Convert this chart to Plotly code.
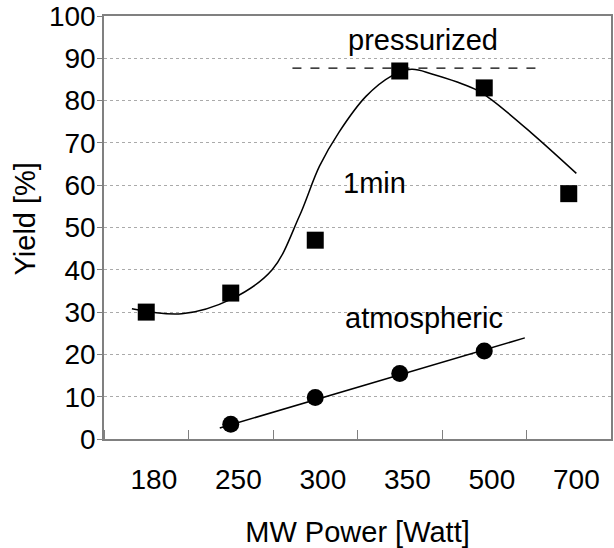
import plotly.graph_objects as go

categories = ["180", "250", "300", "350", "500", "700"]
cat_pos = [0, 1, 2, 3, 4, 5]
label_pos = [0.09, 1.09, 2.09, 3.09, 4.09, 5.09]

# pressurized 1 min (squares)
press_x = [0, 1, 2, 3, 4, 5]
press_y = [30, 34.5, 47, 87, 83, 58]

# atmospheric (circles)
atm_x = [1, 2, 3, 4]
atm_y = [3.5, 9.8, 15.5, 20.8]

# hand-drawn smooth trend curve for pressurized
fit_x = [-0.17, 0.42, 1.0, 1.49, 1.81, 2.05, 2.28, 2.6, 2.9, 3.14, 3.38, 3.89, 4.08, 4.55, 5.09]
fit_y = [30.8, 29.6, 33, 40, 52.6, 64.5, 72.5, 81, 85.8, 87.4, 86.3, 82.7, 80.3, 72.5, 62.8]

# linear trend for atmospheric
atm_fit_x = [0.87, 4.48]
atm_fit_y = [2.6, 23.9]

# dashed max level
max_x = [1.73, 4.61]
max_y = [87.7, 87.7]

FONT = "Liberation Sans, Arial, sans-serif"
TXT = 29

fig = go.Figure()
fig.add_trace(go.Scatter(x=fit_x, y=fit_y, mode="lines", line=dict(color="black", width=1.5, shape="spline", smoothing=1.0), hoverinfo="skip"))
fig.add_trace(go.Scatter(x=max_x, y=max_y, mode="lines", line=dict(color="black", width=1.2, dash="dash"), hoverinfo="skip"))
fig.add_trace(go.Scatter(x=atm_fit_x, y=atm_fit_y, mode="lines", line=dict(color="black", width=1.5), hoverinfo="skip"))
fig.add_trace(go.Scatter(x=press_x, y=press_y, mode="markers", marker=dict(symbol="square", size=17, color="black")))
fig.add_trace(go.Scatter(x=atm_x, y=atm_y, mode="markers", marker=dict(symbol="circle", size=17, color="black")))

fig.add_annotation(x=3.28, y=94.3, text="pressurized", showarrow=False, font=dict(family=FONT, size=TXT, color="black"))
fig.add_annotation(x=2.7, y=60.6, text="1min", showarrow=False, font=dict(family=FONT, size=TXT, color="black"))
fig.add_annotation(x=3.29, y=28.5, text="atmospheric", showarrow=False, font=dict(family=FONT, size=TXT, color="black"))
fig.add_annotation(xref="paper", yref="paper", x=-0.155, y=0.52, xanchor="center", yanchor="middle",
                   text="Yield [%]", textangle=-90,
                   showarrow=False, font=dict(family=FONT, size=TXT, color="black"))

fig.update_layout(
    width=614, height=548,
    margin=dict(l=104, r=1, t=16, b=109),
    plot_bgcolor="white", paper_bgcolor="white",
    showlegend=False,
    font=dict(family=FONT, size=28, color="black"),
)
fig.update_xaxes(
    range=[-0.5, 5.5], tickvals=label_pos, ticktext=categories, ticks="",
    showgrid=False, zeroline=False,
    showline=True, linecolor="#808080", linewidth=1.5, mirror=True,
    ticklabelstandoff=15,
    tickfont=dict(size=28),
    minor=dict(ticks="inside", tick0=0.5, dtick=1, ticklen=9, tickcolor="#808080", tickwidth=1.2, showgrid=False),
    title=dict(text="MW Power [Watt]", standoff=31, font=dict(size=TXT)),
)
fig.update_yaxes(
    range=[0, 100], tickvals=list(range(0, 101, 10)), ticks="outside", ticklen=5,
    tickcolor="#808080", showgrid=True, gridcolor="#aaaaaa", griddash="dot", gridwidth=1,
    tickfont=dict(size=28), ticklabelstandoff=-4,
    zeroline=False, showline=True, linecolor="#808080", linewidth=1.5, mirror=True,
)
fig.write_html("out.html")
